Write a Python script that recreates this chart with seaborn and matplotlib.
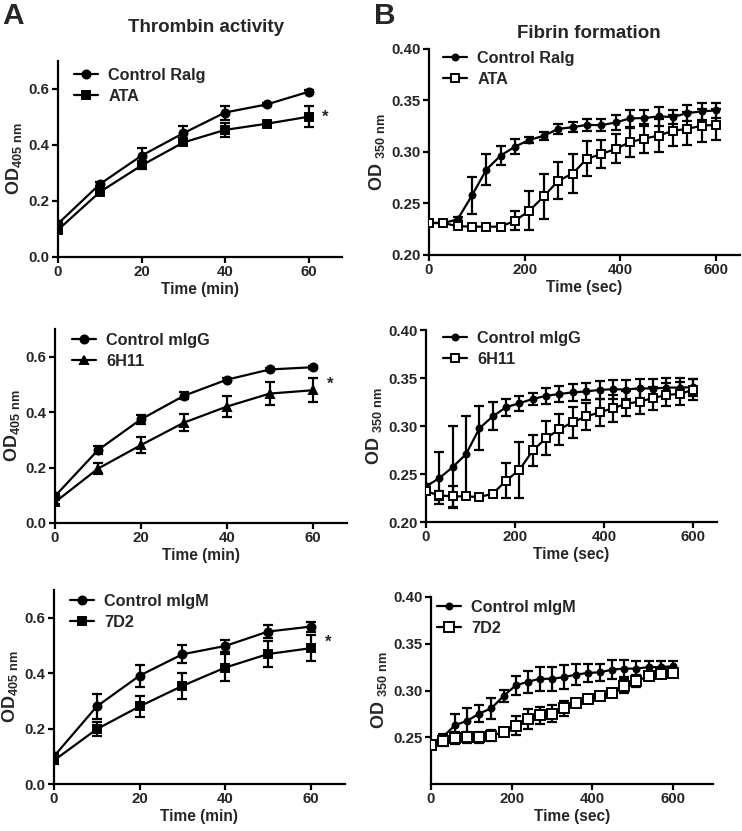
import numpy as np
import pandas as pd
import matplotlib
matplotlib.use("Agg")
import matplotlib.pyplot as plt
import seaborn as sns

# ---------------- data ----------------
t_min = [0, 10, 20, 30, 40, 50, 60]
t_sec = [0, 30, 60, 90, 120, 150, 180, 210, 240, 270, 300, 330, 360, 390, 420, 450, 480, 510, 540, 570, 600]

# Thrombin activity (OD405)
ralg_mean = [0.119, 0.260, 0.362, 0.442, 0.516, 0.545, 0.590]
ralg_err = [0.008, 0.008, 0.027, 0.025, 0.025, 0.006, 0.006]
ata_mean = [0.097, 0.232, 0.327, 0.409, 0.454, 0.476, 0.501]
ata_err = [0.010, 0.008, 0.012, 0.010, 0.024, 0.008, 0.038]

migg_mean = [0.097, 0.263, 0.374, 0.459, 0.517, 0.554, 0.562]
migg_err = [0.006, 0.015, 0.015, 0.012, 0.006, 0.005, 0.005]
h611_mean = [0.075, 0.196, 0.281, 0.362, 0.420, 0.467, 0.479]
h611_err = [0.008, 0.020, 0.028, 0.030, 0.038, 0.040, 0.044]

migm_mean = [0.100, 0.280, 0.391, 0.468, 0.498, 0.550, 0.568]
migm_err = [0.012, 0.046, 0.040, 0.032, 0.023, 0.023, 0.018]
d72_mean = [0.085, 0.198, 0.280, 0.354, 0.420, 0.469, 0.490]
d72_err = [0.012, 0.024, 0.037, 0.046, 0.050, 0.048, 0.046]

# Fibrin formation (OD350)
f_ralg_mean = [0.2314, 0.2310, 0.2347, 0.2580, 0.2830, 0.2966, 0.3053, 0.3118, 0.3157, 0.3225, 0.3240,
               0.3264, 0.3260, 0.3287, 0.3326, 0.3330, 0.3345, 0.3340, 0.3378, 0.3394, 0.3404]
f_ralg_err = [0.002, 0.002, 0.002, 0.018, 0.015, 0.009, 0.007, 0.003, 0.004, 0.005, 0.005,
              0.006, 0.006, 0.007, 0.008, 0.008, 0.009, 0.007, 0.008, 0.008, 0.007]
f_ata_mean = [0.2310, 0.2310, 0.2280, 0.2275, 0.2275, 0.2275, 0.2334, 0.2430, 0.2570, 0.2720, 0.2790,
              0.2934, 0.2980, 0.3030, 0.3096, 0.3130, 0.3160, 0.3206, 0.3225, 0.3255, 0.3264]
f_ata_err = [0.002, 0.002, 0.002, 0.002, 0.002, 0.002, 0.009, 0.019, 0.022, 0.018, 0.019,
             0.017, 0.014, 0.014, 0.014, 0.014, 0.016, 0.015, 0.016, 0.016, 0.015]

f_migg_mean = [0.2371, 0.2457, 0.2572, 0.2707, 0.2976, 0.3100, 0.3196, 0.3237, 0.3282, 0.3314, 0.3334,
               0.3350, 0.3360, 0.3376, 0.3383, 0.3380, 0.3393, 0.3390, 0.3400, 0.3400, 0.3404]
f_migg_err = [0.003, 0.027, 0.043, 0.040, 0.023, 0.0145, 0.009, 0.008, 0.0065, 0.0085, 0.008,
              0.009, 0.009, 0.009, 0.010, 0.010, 0.010, 0.010, 0.010, 0.010, 0.009]
f_h611_mean = [0.2320, 0.2277, 0.2267, 0.2267, 0.2260, 0.2295, 0.2430, 0.2544, 0.2745, 0.2873, 0.2967,
               0.3040, 0.3100, 0.3141, 0.3186, 0.3231, 0.3255, 0.3290, 0.3324, 0.3334, 0.3376]
f_h611_err = [0.003, 0.005, 0.011, 0.002, 0.002, 0.003, 0.018, 0.029, 0.016, 0.018, 0.016,
              0.016, 0.014, 0.014, 0.014, 0.013, 0.013, 0.012, 0.012, 0.012, 0.011]

f_migm_mean = [0.2422, 0.2507, 0.2630, 0.2676, 0.2754, 0.2810, 0.2941, 0.3054, 0.3093, 0.3125, 0.3125,
               0.3143, 0.3170, 0.3188, 0.3195, 0.3224, 0.3234, 0.3234, 0.3250, 0.3250, 0.3260]
f_migm_err = [0.002, 0.003, 0.0115, 0.014, 0.009, 0.0115, 0.006, 0.010, 0.012, 0.013, 0.013,
              0.013, 0.0115, 0.010, 0.009, 0.010, 0.009, 0.008, 0.007, 0.0065, 0.0055]
f_d72_mean = [0.2422, 0.2457, 0.2493, 0.2500, 0.2500, 0.2518, 0.2553, 0.2624, 0.2694, 0.2737, 0.2754,
              0.2810, 0.2863, 0.2906, 0.2941, 0.2970, 0.3047, 0.3100, 0.3153, 0.3178, 0.3188]
f_d72_err = [0.002, 0.005, 0.006, 0.006, 0.006, 0.006, 0.004, 0.010, 0.011, 0.009, 0.009,
             0.008, 0.004, 0.003, 0.003, 0.003, 0.0075, 0.0065, 0.003, 0.003, 0.003]

# ---------------- style ----------------
sns.set_style("ticks")
plt.rcParams["font.family"] = ["Liberation Sans", "DejaVu Sans"]
plt.rcParams["font.weight"] = "bold"
plt.rcParams["mathtext.fontset"] = "custom"
plt.rcParams["mathtext.rm"] = "Liberation Sans:bold"
plt.rcParams["mathtext.default"] = "rm"

W, H = 742, 831
fig = plt.figure(figsize=(W / 100, H / 100), dpi=100)

LW = 1.6


def add_ax(left, right, bottom, top):
    return fig.add_axes([left / W, 1 - bottom / H, (right - left) / W, (bottom - top) / H])


def style_ax(ax):
    sns.despine(ax=ax)
    for s in ["left", "bottom"]:
        ax.spines[s].set_linewidth(LW)
        ax.spines[s].set_color("black")
    ax.tick_params(axis="both", direction="out", length=4, width=LW, color="black",
                   labelsize=10.8, pad=2)
    for lab in ax.get_xticklabels() + ax.get_yticklabels():
        lab.set_fontweight("bold")


def draw_series(ax, x, m, e, marker, ms, mfc, label, z):
    ax.errorbar(x, m, yerr=e, fmt="none", ecolor="black", elinewidth=LW,
                capsize=3.4, capthick=LW, zorder=z)
    sns.lineplot(x=x, y=m, ax=ax, color="black", linewidth=LW, marker=marker,
                 markersize=ms, markerfacecolor=mfc, markeredgecolor="black",
                 markeredgewidth=1.4, label=label, zorder=z + 0.5)


def legend(ax, lx, ly):
    leg = ax.legend(loc="upper left", bbox_to_anchor=(lx / W, 1 - ly / H),
                    bbox_transform=fig.transFigure, frameon=False, borderpad=0,
                    borderaxespad=0, handlelength=1.5, handletextpad=0.6,
                    labelspacing=0.35, prop={"size": 11.7, "weight": "bold"})
    return leg


# ---------------- A panels ----------------
A_specs = [
    ((58, 342, 257, 61), (ralg_mean, ralg_err, "Control Ralg"), (ata_mean, ata_err, "ATA", "s"), (74, 68), 0.50),
    ((55, 347, 523, 329), (migg_mean, migg_err, "Control mIgG"), (h611_mean, h611_err, "6H11", "^"), (72, 333), 0.50),
    ((54, 345, 784, 590), (migm_mean, migm_err, "Control mIgM"), (d72_mean, d72_err, "7D2", "s"), (70, 594), 0.51),
]
for box, ctrl, trt, lpos, star_y in A_specs:
    ax = add_ax(*box)
    draw_series(ax, t_min, ctrl[0], ctrl[1], "o", 5.8, "black", ctrl[2], 2)
    draw_series(ax, t_min, trt[0], trt[1], trt[3], 5.8, "black", trt[2], 3)
    ax.set_xlim(0, 68)
    ax.set_ylim(0, 0.7)
    ax.set_xticks([0, 20, 40, 60])
    ax.set_yticks([0.0, 0.2, 0.4, 0.6])
    ax.set_yticklabels(["0.0", "0.2", "0.4", "0.6"])
    ax.set_xlabel("Time (min)", fontsize=11.2, fontweight="bold", labelpad=2)
    ax.set_ylabel(r"OD$_{405\ nm}$", fontsize=13, fontweight="bold", labelpad=3)
    ax.text(64, star_y, "*", fontsize=12, fontweight="bold", ha="center", va="center")
    style_ax(ax)
    legend(ax, *lpos)

# ---------------- B panels ----------------
B_specs = [
    ((429, 740, 255, 49), (f_ralg_mean, f_ralg_err, "Control Ralg"), (f_ata_mean, f_ata_err, "ATA"), (443, 51), 650, 5.8,
     [0.20, 0.25, 0.30, 0.35, 0.40]),
    ((426, 717, 522, 330), (f_migg_mean, f_migg_err, "Control mIgG"), (f_h611_mean, f_h611_err, "6H11"), (443, 331), 654, 5.8,
     [0.20, 0.25, 0.30, 0.35, 0.40]),
    ((431, 713, 784, 597), (f_migm_mean, f_migm_err, "Control mIgM"), (f_d72_mean, f_d72_err, "7D2"), (437, 600), 700, 7.0,
     [0.25, 0.30, 0.35, 0.40]),
]
for box, ctrl, trt, lpos, xmax, sq, yt in B_specs:
    ax = add_ax(*box)
    draw_series(ax, t_sec, ctrl[0], ctrl[1], "o", 4.3, "black", ctrl[2], 2)
    draw_series(ax, t_sec, trt[0], trt[1], "s", sq, "white", trt[2], 3)
    ax.set_xlim(0, xmax)
    ax.set_ylim(0.2, 0.4)
    ax.set_xticks([0, 200, 400, 600])
    ax.set_yticks(yt)
    ax.set_yticklabels([f"{v:.2f}" for v in yt])
    ax.set_xlabel("Time (sec)", fontsize=11.2, fontweight="bold", labelpad=2)
    ax.set_ylabel(r"OD $_{350\ nm}$", fontsize=13, fontweight="bold", labelpad=3)
    style_ax(ax)
    legend(ax, *lpos)

# ---------------- titles / panel letters ----------------
fig.text(206 / W, 1 - 28 / H, "Thrombin activity", ha="center", va="center",
         fontsize=13.5, fontweight="bold")
fig.text(589 / W, 1 - 34 / H, "Fibrin formation", ha="center", va="center",
         fontsize=13.5, fontweight="bold")
fig.text(2 / W, 1 - 2 / H, "A", ha="left", va="top", fontsize=21.5, fontweight="bold")
fig.text(374 / W, 1 - 2 / H, "B", ha="left", va="top", fontsize=21.5, fontweight="bold")

fig.savefig("out.png", dpi=100)
